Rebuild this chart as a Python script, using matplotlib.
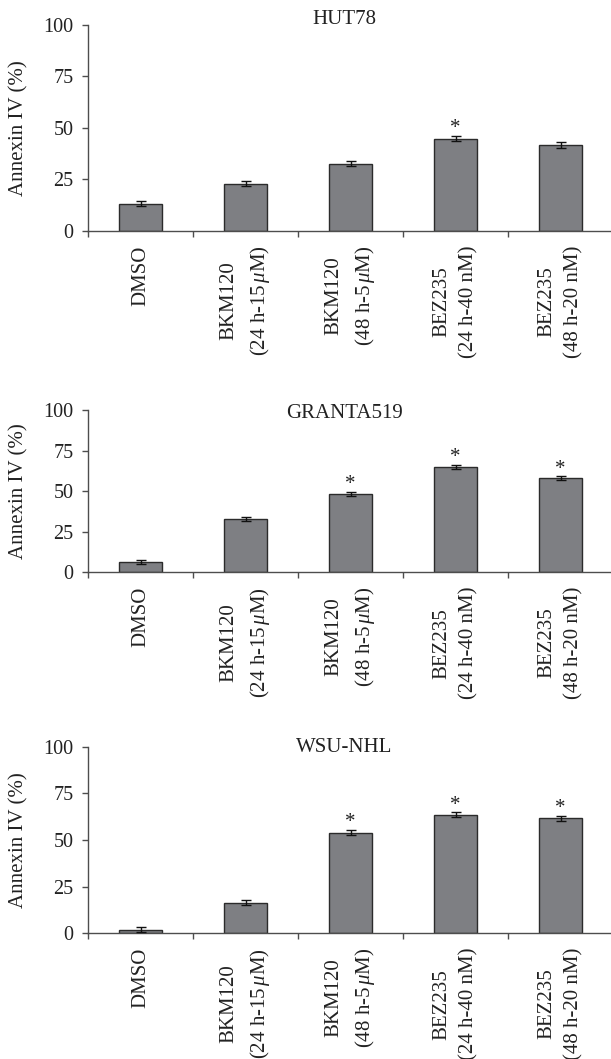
import matplotlib
matplotlib.use("Agg")
import matplotlib.pyplot as plt
import numpy as np

# ======== Data ========
categories = [
    "DMSO",
    "BKM120\n(24 h-15$\\,\\mu$M)",
    "BKM120\n(48 h-5$\\,\\mu$M)",
    "BEZ235\n(24 h-40 nM)",
    "BEZ235\n(48 h-20 nM)",
]

cell_lines = ["HUT78", "GRANTA519", "WSU-NHL"]

hut78_vals = [13.2, 23.0, 32.6, 44.8, 41.6]
hut78_err = [1.3, 1.3, 1.2, 1.4, 1.3]
hut78_sig = [False, False, False, True, False]

granta_vals = [6.4, 32.7, 48.3, 65.1, 57.9]
granta_err = [1.3, 1.2, 1.3, 1.2, 1.2]
granta_sig = [False, False, True, True, True]

wsu_vals = [2.0, 16.4, 54.0, 63.5, 61.7]
wsu_err = [1.5, 1.3, 1.3, 1.3, 1.3]
wsu_sig = [False, False, True, True, True]

y_ticks = [0, 25, 50, 75, 100]

# ======== Style ========
plt.rcParams['font.family'] = ['Liberation Serif', 'DejaVu Serif']
plt.rcParams['mathtext.fontset'] = 'custom'
plt.rcParams['mathtext.rm'] = 'Liberation Serif'
plt.rcParams['mathtext.it'] = 'Liberation Serif:italic'
text_color = '#222222'
axis_color = '#4d4d4d'
bar_color = '#7e7f83'
fs = 15.0      # category labels / titles
fs_y = 14.5    # y tick labels

W, H = 611, 1059
fig = plt.figure(figsize=(W / 100, H / 100), dpi=100)

# pixel boxes (left, right, top, bottom) for each panel
boxes = [(88, 613, 24.7, 231.0), (88, 613, 410.0, 572.3), (88, 613, 746.7, 933.3)]
title_y = [19.0, 413.5, 747.0]

panels = [
    (hut78_vals, hut78_err, hut78_sig),
    (granta_vals, granta_err, granta_sig),
    (wsu_vals, wsu_err, wsu_sig),
]

x = np.arange(len(categories))

for (vals, errs, sig), (l, r, t, b), name, ty in zip(panels, boxes, cell_lines, title_y):
    ax = fig.add_axes([l / W, 1 - b / H, (r - l) / W, (b - t) / H])
    ax.bar(x, vals, width=0.41, color=bar_color, edgecolor='#2b2b2b', linewidth=1.0, zorder=2)
    ax.errorbar(x, vals, yerr=errs, fmt='none', ecolor='#111111', elinewidth=1.0,
                capsize=3.5, capthick=1.0, zorder=3)
    for xi, v, e, s in zip(x, vals, errs, sig):
        if s:
            ax.annotate('*', (xi, v + e), xytext=(0, 2.0), textcoords='offset points',
                        ha='center', va='baseline', fontsize=fs, color=text_color)

    ax.set_xlim(-0.5, len(categories) - 0.5)
    ax.set_ylim(0, 100)
    ax.set_yticks(y_ticks)
    ax.set_yticklabels([str(v) for v in y_ticks])

    # boundary tick marks, labels at category centres
    ax.set_xticks(np.arange(len(categories)) - 0.5)
    ax.set_xticklabels([])
    ax.set_xticks(x, minor=True)
    ax.set_xticklabels(categories, minor=True, rotation=90, ha='center', va='top',
                       multialignment='center', linespacing=1.55)
    ax.tick_params(axis='x', which='minor', length=0, pad=10.5, labelsize=fs,
                   labelcolor=text_color)
    ax.tick_params(axis='x', which='major', length=4.5, width=1.0, color=axis_color,
                   direction='out')
    ax.tick_params(axis='y', length=4.5, width=1.0, color=axis_color, direction='out',
                   pad=6, labelsize=fs_y, labelcolor=text_color)

    for sp in ['top', 'right']:
        ax.spines[sp].set_visible(False)
    for sp in ['left', 'bottom']:
        ax.spines[sp].set_color(axis_color)
        ax.spines[sp].set_linewidth(1.0)

    fig.text(344 / W, 1 - ty / H, name, ha='center', va='center', fontsize=fs,
             color=text_color)
    fig.text(19 / W, 1 - (t + b) / 2 / H, "Annexin IV (%)", rotation=90, ha='center',
             va='center', fontsize=fs, color=text_color)

fig.savefig("out.png", dpi=100)
